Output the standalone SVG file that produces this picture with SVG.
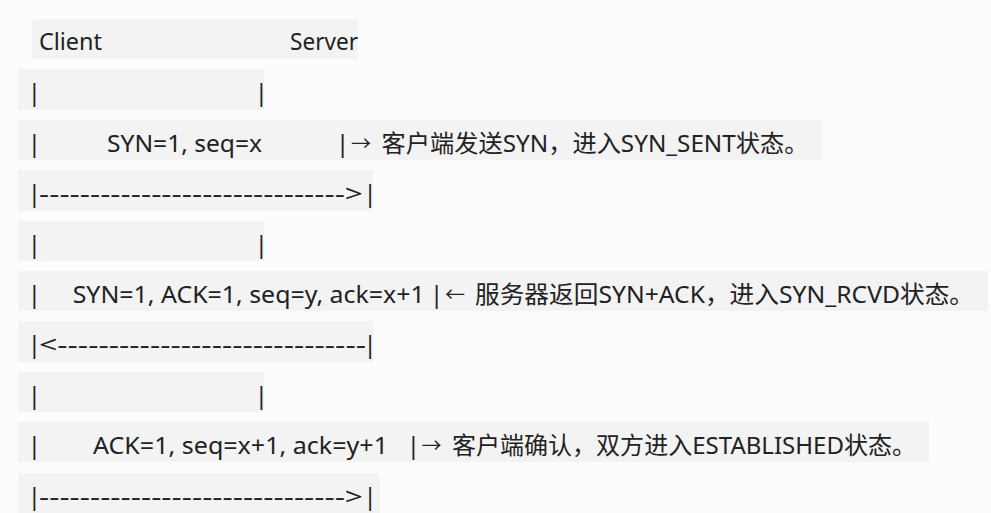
<svg xmlns="http://www.w3.org/2000/svg" width="991" height="513" viewBox="0 0 991 513">
<style>
.bg{fill:#f3f3f3}
text{font-family:"Noto Sans","Noto Sans CJK SC",sans-serif;font-size:24px;fill:#222}
.c{text-anchor:middle}
.a{font-size:20px}
</style>
<rect width="991" height="513" fill="#fcfcfc"/>
<g id="line1">
<path class="bg" d="M36,19 H358 V59 H32 V23 Q32,19 36,19 Z"/>
<text x="39" y="50" textLength="63" lengthAdjust="spacingAndGlyphs">Client</text>
<text x="290" y="50" textLength="68" lengthAdjust="spacingAndGlyphs">Server</text>
</g>
<g id="line2">
<rect class="bg" x="18" y="69" width="246" height="41"/>
<text class="c" x="34.3" y="101">|</text>
<text class="c" x="261.3" y="101">|</text>
</g>
<g id="line3">
<rect class="bg" x="18" y="120" width="804" height="40"/>
<text class="c" x="34.3" y="152">|</text>
<text x="107" y="152" textLength="155" lengthAdjust="spacingAndGlyphs">SYN=1, seq=x</text>
<text class="c" x="342.7" y="152">|</text>
<text class="a" x="351" y="151">→</text>
<text x="381.5" y="152" textLength="427" lengthAdjust="spacingAndGlyphs">客户端发送SYN，进入SYN_SENT状态。</text>
</g>
<g id="line4">
<rect class="bg" x="18" y="170" width="355" height="41"/>
<text class="c" x="34.3" y="202">|</text>
<text x="39" y="202" textLength="324" lengthAdjust="spacingAndGlyphs">------------------------------&gt;</text>
<text class="c" x="370" y="202">|</text>
</g>
<g id="line5">
<rect class="bg" x="18" y="221" width="246" height="40"/>
<text class="c" x="34.3" y="253">|</text>
<text class="c" x="261.3" y="253">|</text>
</g>
<g id="line6">
<rect class="bg" x="18" y="271" width="970" height="40"/>
<text class="c" x="34.3" y="303">|</text>
<text x="72.7" y="303" textLength="352" lengthAdjust="spacingAndGlyphs">SYN=1, ACK=1, seq=y, ack=x+1</text>
<text class="c" x="436.7" y="303">|</text>
<text class="a" x="445" y="302">←</text>
<text x="475" y="303" textLength="499" lengthAdjust="spacingAndGlyphs">服务器返回SYN+ACK，进入SYN_RCVD状态。</text>
</g>
<g id="line7">
<rect class="bg" x="18" y="321" width="355" height="41"/>
<text class="c" x="34.3" y="353">|</text>
<text x="39" y="353" textLength="327" lengthAdjust="spacingAndGlyphs">&lt;------------------------------</text>
<text class="c" x="370" y="353">|</text>
</g>
<g id="line8">
<rect class="bg" x="18" y="372" width="246" height="40"/>
<text class="c" x="34.3" y="404">|</text>
<text class="c" x="261.3" y="404">|</text>
</g>
<g id="line9">
<rect class="bg" x="18" y="422" width="911" height="40"/>
<text class="c" x="34.3" y="454">|</text>
<text x="93" y="454" textLength="295" lengthAdjust="spacingAndGlyphs">ACK=1, seq=x+1, ack=y+1</text>
<text class="c" x="413.3" y="454">|</text>
<text class="a" x="421.5" y="453">→</text>
<text x="452" y="454" textLength="464" lengthAdjust="spacingAndGlyphs">客户端确认，双方进入ESTABLISHED状态。</text>
</g>
<g id="line10">
<path class="bg" d="M18,473 H375 Q380,473 380,478 V513 H18 Z"/>
<text class="c" x="34.3" y="505">|</text>
<text x="39" y="505" textLength="324" lengthAdjust="spacingAndGlyphs">------------------------------&gt;</text>
<text class="c" x="370" y="505">|</text>
</g>
</svg>
